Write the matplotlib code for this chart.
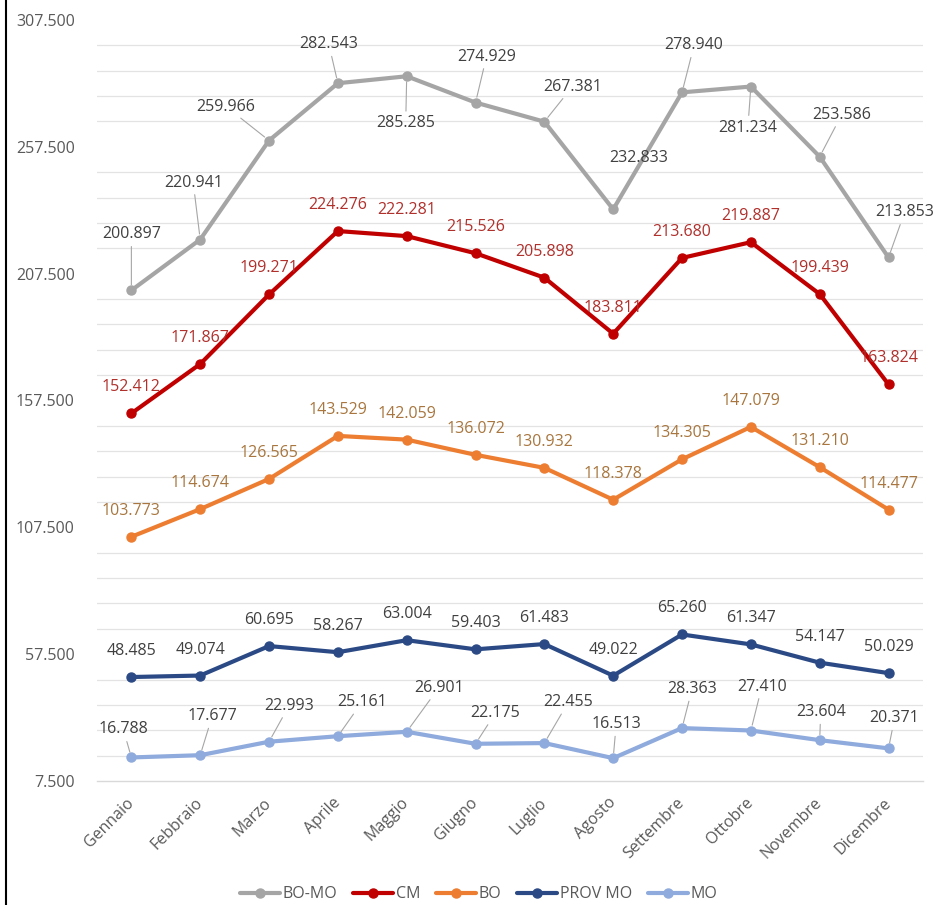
import matplotlib
matplotlib.use("Agg")
import matplotlib.pyplot as plt
from matplotlib.lines import Line2D
from matplotlib.ticker import FixedLocator
import numpy as np

plt.rcParams['font.family'] = ['Open Sans', 'DejaVu Sans']
plt.rcParams['font.size'] = 11.5

# data
mesi = ["Gennaio", "Febbraio", "Marzo", "Aprile", "Maggio", "Giugno",
        "Luglio", "Agosto", "Settembre", "Ottobre", "Novembre", "Dicembre"]
bo_mo = [200897, 220941, 259966, 282543, 285285, 274929,
         267381, 232833, 278940, 281234, 253586, 213853]
cm = [152412, 171867, 199271, 224276, 222281, 215526,
      205898, 183811, 213680, 219887, 199439, 163824]
bo = [103773, 114674, 126565, 143529, 142059, 136072,
      130932, 118378, 134305, 147079, 131210, 114477]
prov_mo = [48485, 49074, 60695, 58267, 63004, 59403,
           61483, 49022, 65260, 61347, 54147, 50029]
mo = [16788, 17677, 22993, 25161, 26901, 22175,
      22455, 16513, 28363, 27410, 23604, 20371]
y_ticks = [7500, 57500, 107500, 157500, 207500, 257500, 307500]

# label offsets in pixels (dx, dy), True = leader line
off_bomo = [(0, 56, True), (-7, 57, True), (-43, 34, True), (-9, 39, True),
            (-1, -47, True), (11, 46, True), (28, 35, True), (25, 51, False),
            (12, 47, True), (-3, -41, True), (22, 42, True), (16, 45, True)]
off_mo = [(-8, 28, True), (12, 39, True), (20, 36, True), (24, 34, True),
          (32, 44, True), (20, 31, True), (24, 41, True), (3, 34, True),
          (10, 39, True), (11, 44, True), (1, 28, True), (6, 30, True)]

series = [
    ("BO-MO", bo_mo, "#A5A5A5", "#404040", off_bomo),
    ("CM", cm, "#C00000", "#B0302C", None),
    ("BO", bo, "#ED7D31", "#A8763E", None),
    ("PROV MO", prov_mo, "#2B4A85", "#404040", None),
    ("MO", mo, "#8FAADC", "#404040", off_mo),
]

def fmt(v):
    return f"{v:,}".replace(",", ".")

fig = plt.figure(figsize=(9.35, 9.05), dpi=100)
ax = fig.add_axes([0.1037, 0.137, 0.8834, 0.841])

x = np.arange(len(mesi))
for name, vals, col, tcol, offs in series:
    ax.plot(x, vals, color=col, lw=3, marker='o', ms=6.5, label=name,
            solid_capstyle='round', zorder=3)
    for i, v in enumerate(vals):
        if offs is None:
            dx, dy, lead = 0, 26, False
        else:
            dx, dy, lead = offs[i]
        arrow = None
        if lead:
            arrow = dict(arrowstyle='-', color='#A6A6A6', lw=0.8,
                         shrinkA=1, shrinkB=4)
        ax.annotate(fmt(v), (i, v), xytext=(dx, dy), textcoords='offset pixels',
                    ha='center', va='center', color=tcol, fontsize=11.5,
                    arrowprops=arrow, zorder=4, annotation_clip=False)

ax.set_xlim(-0.5, 11.5)
ax.set_ylim(7500, 307500)
ax.set_yticks(y_ticks)
ax.set_yticklabels([fmt(t) for t in y_ticks], color='#595959', fontsize=11.5)
ax.yaxis.set_minor_locator(FixedLocator(np.arange(17500, 307500, 10000)))
ax.grid(which='minor', axis='y', color='#E3E3E3', lw=0.9)
ax.tick_params(axis='y', which='both', length=0, pad=16)
ax.set_xticks(x)
ax.set_xticklabels(mesi, rotation=45, ha='right', va='center',
                   rotation_mode='anchor', color='#595959', fontsize=11.5)
ax.tick_params(axis='x', length=0, pad=14)
for s in ['top', 'right', 'left']:
    ax.spines[s].set_visible(False)
ax.spines['bottom'].set_color('#D9D9D9')
ax.spines['bottom'].set_linewidth(1)

fig.legend(loc='center', bbox_to_anchor=(0.512, 0.012), ncol=5, frameon=False,
           handlelength=2.5, columnspacing=1.0, handletextpad=0.15,
           fontsize=11.5, labelcolor='#595959')

fig.add_artist(Line2D([0.006, 0.006], [0, 1], color='black', lw=1.5))

fig.savefig("out.png", dpi=100)
